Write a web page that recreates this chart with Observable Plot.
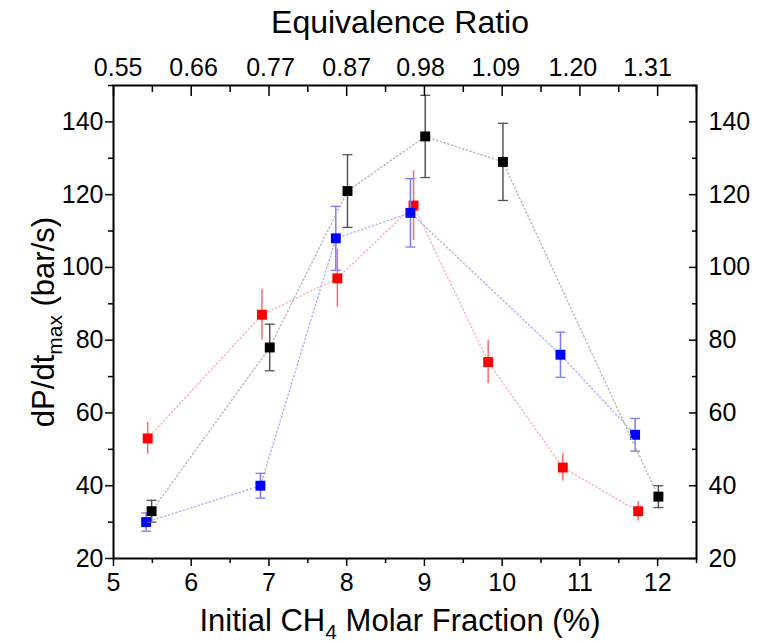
<!DOCTYPE html>
<html><head><meta charset="utf-8">
<script src="https://cdn.jsdelivr.net/npm/d3@7"></script>
<script src="https://cdn.jsdelivr.net/npm/@observablehq/plot@0.6"></script>
<style>body{margin:0;background:#fff}</style>
</head><body><div id="chart"></div>
<script>
// Black series
const xBlack = [5.49, 7.01, 8.01, 9.01, 10.01, 12.01];
const yBlack = [33, 78, 121, 136, 129, 37];
const eBlack = [3, 6.4, 10, 11.3, 10.6, 3];
// Red series
const xRed = [5.44, 6.91, 7.88, 8.86, 9.82, 10.78, 11.75];
const yRed = [53, 87, 97, 117, 74, 45, 33];
const eRed = [4.4, 7, 8, 9.6, 6, 3.7, 2.7];
// Blue series
const xBlue = [5.42, 6.89, 7.86, 8.82, 10.75, 11.71];
const yBlue = [30, 40, 108, 115, 76, 54];
const eBlue = [2.5, 3.4, 8.8, 9.4, 6.2, 4.5];
// Ticks
const xMajor = [5, 6, 7, 8, 9, 10, 11, 12];
const xMinor = [5.5, 6.5, 7.5, 8.5, 9.5, 10.5, 11.5, 12.5];
const phiLabels = ["0.55", "0.66", "0.77", "0.87", "0.98", "1.09", "1.20", "1.31"];
const phiLabelAt = [5.06, 6.03, 7.02, 8.0, 8.95, 9.92, 10.91, 11.87];
const yMajor = [20, 40, 60, 80, 100, 120, 140];
const yMinor = [30, 50, 70, 90, 110, 130, 150];

const rows = (xs, ys, es) => xs.map((x, i) => ({x, y: ys[i], lo: ys[i] - es[i], hi: ys[i] + es[i]}));
const black = rows(xBlack, yBlack, eBlack);
const red = rows(xRed, yRed, eRed);
const blue = rows(xBlue, yBlue, eBlue);
const phiTop = phiLabels.map((t, i) => ({x: phiLabelAt[i], t}));

const capSymbol = {draw(ctx, size) { const r = Math.sqrt(size / Math.PI); ctx.moveTo(-r, 0); ctx.lineTo(r, 0); }};

function seriesMarks(data, main, lineC, errC, caps) {
  const m = [
    Plot.line(data, {x: "x", y: "y", stroke: lineC, strokeWidth: 1.4, strokeDasharray: "1.3,2.6"}),
    Plot.ruleX(data, {x: "x", y1: "lo", y2: "hi", stroke: errC, strokeWidth: 1.5})
  ];
  if (caps) {
    m.push(Plot.dot(data, {x: "x", y: "lo", symbol: capSymbol, r: 5, stroke: errC, strokeWidth: 1.3, fill: "none"}));
    m.push(Plot.dot(data, {x: "x", y: "hi", symbol: capSymbol, r: 5, stroke: errC, strokeWidth: 1.3, fill: "none"}));
  }
  m.push(Plot.dot(data, {x: "x", y: "y", symbol: "square", r: 5.6, fill: main, stroke: "none"}));
  return m;
}

const FS = 25;
const chart = Plot.plot({
  width: 774, height: 643,
  marginLeft: 113, marginRight: 78, marginTop: 85, marginBottom: 85,
  style: {fontFamily: "'Liberation Sans', Arial, sans-serif", fontSize: FS + "px", background: "#fff", color: "#000"},
  x: {domain: [5, 12.5]},
  y: {domain: [20, 150]},
  marks: [
    ...seriesMarks(red, "#ff0000", "#ffb0b0", "#ff6a6a", false),
    ...seriesMarks(blue, "#0000ff", "#b0b0ff", "#7a7aff", true),
    ...seriesMarks(black, "#000000", "#b8b8b8", "#555555", true),
    // bottom axis
    Plot.axisX({anchor: "bottom", ticks: xMajor, tickSize: 8, tickPadding: 7, strokeWidth: 1.5, fontSize: FS, label: null, tickFormat: d => String(d)}),
    Plot.axisX({anchor: "bottom", ticks: xMinor, tickSize: 5, strokeWidth: 1.5, label: null, tickFormat: () => ""}),
    // top axis (inward ticks)
    Plot.axisX({anchor: "top", ticks: xMajor, tickSize: 10, dy: 10, strokeWidth: 1.5, label: null, tickFormat: () => ""}),
    Plot.axisX({anchor: "top", ticks: xMinor, tickSize: 6, dy: 6, strokeWidth: 1.5, label: null, tickFormat: () => ""}),
    Plot.text(phiTop, {x: "x", text: "t", frameAnchor: "top", lineAnchor: "bottom", dy: -10, fontSize: FS, fill: "#000"}),
    // left axis
    Plot.axisY({anchor: "left", ticks: yMajor, tickSize: 8, tickPadding: 2, strokeWidth: 1.5, fontSize: FS, label: null}),
    Plot.axisY({anchor: "left", ticks: yMinor, tickSize: 5, strokeWidth: 1.5, label: null, tickFormat: () => ""}),
    // right axis (inward ticks)
    Plot.axisY({anchor: "right", ticks: yMajor, tickSize: 8, dx: -8, strokeWidth: 1.5, label: null, tickFormat: () => ""}),
    Plot.axisY({anchor: "right", ticks: yMinor, tickSize: 5, dx: -5, strokeWidth: 1.5, label: null, tickFormat: () => ""}),
    Plot.axisY({anchor: "right", ticks: yMajor, tickSize: 0, tickPadding: 12, fontSize: FS, label: null}),
    Plot.frame({stroke: "#000", strokeWidth: 2})
  ]
});

const svg = d3.select(chart);
svg.append("text").attr("x", 400).attr("y", 33).attr("text-anchor", "middle")
  .attr("font-size", 32).attr("fill", "#000").text("Equivalence Ratio");
const xl = svg.append("text").attr("x", 400).attr("y", 631).attr("text-anchor", "middle")
  .attr("font-size", 31).attr("fill", "#000");
xl.append("tspan").text("Initial CH");
xl.append("tspan").attr("font-size", 21).attr("dy", 8).text("4");
xl.append("tspan").attr("dy", -8).text(" Molar Fraction (%)");
const yl = svg.append("text").attr("transform", "translate(54,322) rotate(-90)").attr("text-anchor", "middle")
  .attr("font-size", 31).attr("fill", "#000");
yl.append("tspan").text("dP/dt");
yl.append("tspan").attr("font-size", 21).attr("dy", 8).text("max");
yl.append("tspan").attr("dy", -8).text(" (bar/s)");

document.getElementById("chart").appendChild(chart);
</script>
</body></html>
